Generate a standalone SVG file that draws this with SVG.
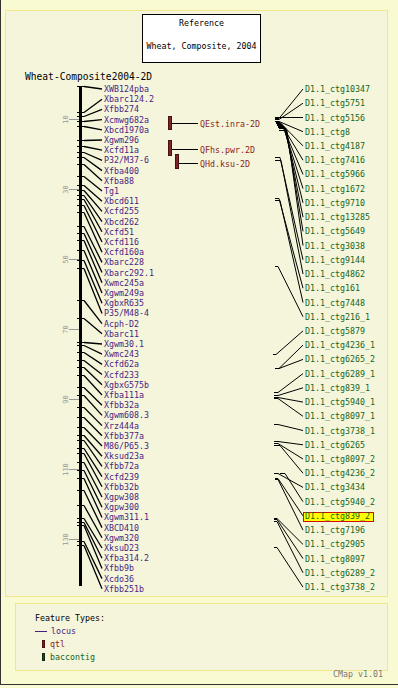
<svg xmlns="http://www.w3.org/2000/svg" width="398" height="688" viewBox="0 0 398 688">
<style>
text{font-family:"DejaVu Sans Mono","Liberation Mono",monospace;font-size:8.3px}
.loc{fill:#4a1d80}
.qtl{fill:#8b2323}
.ctg{fill:#17651b}
.tk{stroke:#000;stroke-width:1;shape-rendering:crispEdges}
.cn{stroke:#000;stroke-width:1;fill:none}
.lcn{stroke:#000;stroke-width:1.3;fill:none}
.sc{stroke:#999;stroke-width:1;shape-rendering:crispEdges}
.scl{fill:#999;font-size:7px}
.panel{fill:#f5f5dc;stroke:#f0e68c;stroke-width:1}
</style>
<rect x="0" y="0" width="398" height="688" fill="#fafad2"/>
<line x1="0.5" y1="0" x2="0.5" y2="685" stroke="#333"/>
<line x1="0" y1="684.5" x2="398" y2="684.5" stroke="#333"/>
<rect class="panel" x="5.5" y="10.5" width="382" height="586"/>
<rect class="panel" x="15.5" y="603.5" width="372" height="67"/>

<g id="title">
<rect x="142.5" y="14.5" width="118" height="48" fill="#fff" stroke="#000"/>
<text x="201.5" y="26" text-anchor="middle">Reference</text>
<text x="201.5" y="49" text-anchor="middle">Wheat, Composite, 2004</text>
</g>

<g id="map-title"><text x="25" y="80" style="font-size:9.6px">Wheat-Composite2004-2D</text></g>

<g id="map">
<rect x="79" y="86" width="3" height="500" fill="#000"/>
<g id="scale">
<line class="sc" x1="69" y1="119.5" x2="79" y2="119.5"/>
<line class="sc" x1="69" y1="189.5" x2="79" y2="189.5"/>
<line class="sc" x1="69" y1="259.5" x2="79" y2="259.5"/>
<line class="sc" x1="69" y1="329.5" x2="79" y2="329.5"/>
<line class="sc" x1="69" y1="399.5" x2="79" y2="399.5"/>
<line class="sc" x1="69" y1="469.5" x2="79" y2="469.5"/>
<line class="sc" x1="69" y1="539.5" x2="79" y2="539.5"/>
<text class="scl" transform="translate(68,119.5) rotate(-90)" text-anchor="middle">10</text>
<text class="scl" transform="translate(68,189.5) rotate(-90)" text-anchor="middle">30</text>
<text class="scl" transform="translate(68,259.5) rotate(-90)" text-anchor="middle">50</text>
<text class="scl" transform="translate(68,329.5) rotate(-90)" text-anchor="middle">70</text>
<text class="scl" transform="translate(68,399.5) rotate(-90)" text-anchor="middle">90</text>
<text class="scl" transform="translate(68,469.5) rotate(-90)" text-anchor="middle">110</text>
<text class="scl" transform="translate(68,539.5) rotate(-90)" text-anchor="middle">130</text>
</g>
<path class="tk" d="M77,86.5H84 M77,112.5H84 M77,116.5H84 M77,121.5H84 M77,126.5H84 M77,140.5H84 M77,146.5H84 M77,152.5H84 M77,157.5H84 M77,164.5H84 M77,176.5H84 M77,185.5H84 M77,190.5H84 M77,195.5H84 M77,199.5H84 M77,205.5H84 M77,212.5H84 M77,226.5H84 M77,233.5H84 M77,240.5H84 M77,250.5H84 M77,260.5H84 M77,268.5H84 M77,300.5H84 M77,318.5H84 M77,342.5H84 M77,345.5H84 M77,352.5H84 M77,360.5H84 M77,367.5H84 M77,375.5H84 M77,387.5H84 M77,395.5H84 M77,407.5H84 M77,417.5H84 M77,427.5H84 M77,435.5H84 M77,440.5H84 M77,448.5H84 M77,453.5H84 M77,462.5H84 M77,470.5H84 M77,478.5H84 M77,490.5H84 M77,505.5H84 M77,518.5H84 M77,522.5H84 M77,525.5H84 M77,541.5H84 M77,545.5H84"/>
</g>

<g id="connectors">
<path class="lcn" d="M84,86.5L102,89 M84,112.5L102,99.2 M84,116.5L102,109.4 M84,121.5L102,119.6 M84,126.5L102,129.8 M84,140.5L102,140 M84,146.5L102,150.2 M84,152.5L102,160.4 M84,157.5L102,170.6 M84,164.5L102,180.8 M84,176.5L102,191 M84,185.5L102,201.2 M84,190.5L102,211.4 M84,195.5L102,221.6 M84,199.5L102,231.8 M84,205.5L102,242 M84,212.5L102,252.2 M84,226.5L102,262.4 M84,233.5L102,272.6 M84,240.5L102,282.8 M84,250.5L102,293 M84,260.5L102,303.2 M84,268.5L102,313.4 M84,300.5L102,323.6 M84,318.5L102,333.8 M84,342.5L102,344 M84,345.5L102,354.2 M84,352.5L102,364.4 M84,360.5L102,374.6 M84,367.5L102,384.8 M84,375.5L102,395 M84,387.5L102,405.2 M84,395.5L102,415.4 M84,407.5L102,425.6 M84,417.5L102,435.8 M84,427.5L102,446 M84,435.5L102,456.2 M84,440.5L102,466.4 M84,448.5L102,476.6 M84,453.5L102,486.8 M84,462.5L102,497 M84,470.5L102,507.2 M84,478.5L102,517.4 M84,490.5L102,527.6 M84,505.5L102,537.8 M84,518.5L102,548 M84,522.5L102,558.2 M84,525.5L102,568.4 M84,541.5L102,578.6 M84,545.5L102,588.8"/>
<path class="cn" d="M172,123.5H198 M172,149.5H198 M178,163.5H198"/>
<path class="cn" d="M275,118.5H279L303,89 M275,119.5H279L303,103.2 M275,117.5H303 M275,121.5H279L303,131.7 M276,122.5H280L303,145.9 M276,123.5H281L303,160.2 M277,124.5H282L303,174.4 M277,125.5H283L303,188.6 M278,126.5H284L303,202.8 M278,127.5H285L303,217.1 M279,128.5H286L303,231.3 M279,130.5H287L303,245.5 M275,157.5H280L303,259.8 M275,160.5H281L303,274 M275,198.5H279L303,288.2 M275,200.5H280L303,302.5 M275,266.5H278L303,316.7 M273,354.5H276L303,330.9 M275,368.5H279L303,345.1 M275,368.5H279L303,359.4 M274,392.5H278L303,373.6 M274,395.5H278L303,387.8 M274,397.5H278L303,402.1 M274,398.5H278L303,416.3 M274,424.5H278L303,430.5 M274,441.5H278L303,444.8 M274,443.5H278L303,459 M274,445.5H280L303,473.2 M274,473.5H278L303,487.4 M280,473.5H285L303,501.7 M275,478.5H278L303,515.9 M275,479.5H278L303,530.1 M274,518.5H277L303,544.4 M274,519.5H277L303,558.6 M274,521.5H277L303,572.8 M274,547.5H277L303,587.1"/>
</g>

<g id="loci" class="loc">
<g id="l0"><text x="104" y="92">XWB124pba</text></g>
<g id="l1"><text x="104" y="102.2">Xbarc124.2</text></g>
<g id="l2"><text x="104" y="112.4">Xfbb274</text></g>
<g id="l3"><text x="104" y="122.6">Xcmwg682a</text></g>
<g id="l4"><text x="104" y="132.8">Xbcd1970a</text></g>
<g id="l5"><text x="104" y="143">Xgwm296</text></g>
<g id="l6"><text x="104" y="153.2">Xcfd11a</text></g>
<g id="l7"><text x="104" y="163.4">P32/M37-6</text></g>
<g id="l8"><text x="104" y="173.6">Xfba400</text></g>
<g id="l9"><text x="104" y="183.8">Xfba88</text></g>
<g id="l10"><text x="104" y="194">Tg1</text></g>
<g id="l11"><text x="104" y="204.2">Xbcd611</text></g>
<g id="l12"><text x="104" y="214.4">Xcfd255</text></g>
<g id="l13"><text x="104" y="224.6">Xbcd262</text></g>
<g id="l14"><text x="104" y="234.8">Xcfd51</text></g>
<g id="l15"><text x="104" y="245">Xcfd116</text></g>
<g id="l16"><text x="104" y="255.2">Xcfd160a</text></g>
<g id="l17"><text x="104" y="265.4">Xbarc228</text></g>
<g id="l18"><text x="104" y="275.6">Xbarc292.1</text></g>
<g id="l19"><text x="104" y="285.8">Xwmc245a</text></g>
<g id="l20"><text x="104" y="296">Xgwm249a</text></g>
<g id="l21"><text x="104" y="306.2">XgbxR635</text></g>
<g id="l22"><text x="104" y="316.4">P35/M48-4</text></g>
<g id="l23"><text x="104" y="326.6">Acph-D2</text></g>
<g id="l24"><text x="104" y="336.8">Xbarc11</text></g>
<g id="l25"><text x="104" y="347">Xgwm30.1</text></g>
<g id="l26"><text x="104" y="357.2">Xwmc243</text></g>
<g id="l27"><text x="104" y="367.4">Xcfd62a</text></g>
<g id="l28"><text x="104" y="377.6">Xcfd233</text></g>
<g id="l29"><text x="104" y="387.8">XgbxG575b</text></g>
<g id="l30"><text x="104" y="398">Xfba111a</text></g>
<g id="l31"><text x="104" y="408.2">Xfbb32a</text></g>
<g id="l32"><text x="104" y="418.4">Xgwm608.3</text></g>
<g id="l33"><text x="104" y="428.6">Xrz444a</text></g>
<g id="l34"><text x="104" y="438.8">Xfbb377a</text></g>
<g id="l35"><text x="104" y="449">M86/P65.3</text></g>
<g id="l36"><text x="104" y="459.2">Xksud23a</text></g>
<g id="l37"><text x="104" y="469.4">Xfbb72a</text></g>
<g id="l38"><text x="104" y="479.6">Xcfd239</text></g>
<g id="l39"><text x="104" y="489.8">Xfbb32b</text></g>
<g id="l40"><text x="104" y="500">Xgpw308</text></g>
<g id="l41"><text x="104" y="510.2">Xgpw300</text></g>
<g id="l42"><text x="104" y="520.4">Xgwm311.1</text></g>
<g id="l43"><text x="104" y="530.6">XBCD410</text></g>
<g id="l44"><text x="104" y="540.8">Xgwm320</text></g>
<g id="l45"><text x="104" y="551">XksuD23</text></g>
<g id="l46"><text x="104" y="561.2">Xfba314.2</text></g>
<g id="l47"><text x="104" y="571.4">Xfbb9b</text></g>
<g id="l48"><text x="104" y="581.6">Xcdo36</text></g>
<g id="l49"><text x="104" y="591.8">Xfbb251b</text></g>
</g>

<g id="qtls">
<g id="q0"><rect x="168.5" y="116.5" width="3" height="13" fill="#7a2626" stroke="#4a1010"/><text class="qtl" x="200" y="126.5">QEst.inra-2D</text></g>
<g id="q1"><rect x="168.5" y="140.5" width="3" height="15" fill="#7a2626" stroke="#4a1010"/><text class="qtl" x="200" y="152.5">QFhs.pwr.2D</text></g>
<g id="q2"><rect x="175.5" y="154.5" width="3" height="14" fill="#7a2626" stroke="#4a1010"/><text class="qtl" x="200" y="166.5">QHd.ksu-2D</text></g>
</g>

<g id="contigs" class="ctg">
<g id="c0"><text x="305" y="92">D1.1_ctg10347</text></g>
<g id="c1"><text x="305" y="106.2">D1.1_ctg5751</text></g>
<g id="c2"><text x="305" y="120.5">D1.1_ctg5156</text></g>
<g id="c3"><text x="305" y="134.7">D1.1_ctg8</text></g>
<g id="c4"><text x="305" y="148.9">D1.1_ctg4187</text></g>
<g id="c5"><text x="305" y="163.2">D1.1_ctg7416</text></g>
<g id="c6"><text x="305" y="177.4">D1.1_ctg5966</text></g>
<g id="c7"><text x="305" y="191.6">D1.1_ctg1672</text></g>
<g id="c8"><text x="305" y="205.8">D1.1_ctg9710</text></g>
<g id="c9"><text x="305" y="220.1">D1.1_ctg13285</text></g>
<g id="c10"><text x="305" y="234.3">D1.1_ctg5649</text></g>
<g id="c11"><text x="305" y="248.5">D1.1_ctg3038</text></g>
<g id="c12"><text x="305" y="262.8">D1.1_ctg9144</text></g>
<g id="c13"><text x="305" y="277">D1.1_ctg4862</text></g>
<g id="c14"><text x="305" y="291.2">D1.1_ctg161</text></g>
<g id="c15"><text x="305" y="305.5">D1.1_ctg7448</text></g>
<g id="c16"><text x="305" y="319.7">D1.1_ctg216_1</text></g>
<g id="c17"><text x="305" y="333.9">D1.1_ctg5879</text></g>
<g id="c18"><text x="305" y="348.1">D1.1_ctg4236_1</text></g>
<g id="c19"><text x="305" y="362.4">D1.1_ctg6265_2</text></g>
<g id="c20"><text x="305" y="376.6">D1.1_ctg6289_1</text></g>
<g id="c21"><text x="305" y="390.8">D1.1_ctg839_1</text></g>
<g id="c22"><text x="305" y="405.1">D1.1_ctg5940_1</text></g>
<g id="c23"><text x="305" y="419.3">D1.1_ctg8097_1</text></g>
<g id="c24"><text x="305" y="433.5">D1.1_ctg3738_1</text></g>
<g id="c25"><text x="305" y="447.8">D1.1_ctg6265</text></g>
<g id="c26"><text x="305" y="462">D1.1_ctg8097_2</text></g>
<g id="c27"><text x="305" y="476.2">D1.1_ctg4236_2</text></g>
<g id="c28"><text x="305" y="490.4">D1.1_ctg3434</text></g>
<g id="c29"><text x="305" y="504.7">D1.1_ctg5940_2</text></g>
<g id="c30"><rect x="303.5" y="512.5" width="70" height="9" fill="#ffff00" stroke="#d01010"/><text x="305" y="518.9">D1.1_ctg839_2</text></g>
<g id="c31"><text x="305" y="533.1">D1.1_ctg7196</text></g>
<g id="c32"><text x="305" y="547.4">D1.1_ctg2905</text></g>
<g id="c33"><text x="305" y="561.6">D1.1_ctg8097</text></g>
<g id="c34"><text x="305" y="575.8">D1.1_ctg6289_2</text></g>
<g id="c35"><text x="305" y="590.1">D1.1_ctg3738_2</text></g>
</g>

<g id="legend">
<text x="35" y="621">Feature Types:</text>
<line x1="35" y1="631.5" x2="47" y2="631.5" stroke="#4a1d80"/>
<text class="loc" x="51" y="634">locus</text>
<rect x="42.5" y="640.5" width="2" height="7" fill="#7a2626" stroke="#4a1010"/>
<text class="qtl" x="50" y="647">qtl</text>
<rect x="42.5" y="653.5" width="2" height="7" fill="#1f4a1f" stroke="#0f2a0f"/>
<text class="ctg" x="50" y="660">baccontig</text>
</g>
<text x="333" y="677" fill="#777">CMap v1.01</text>
</svg>
